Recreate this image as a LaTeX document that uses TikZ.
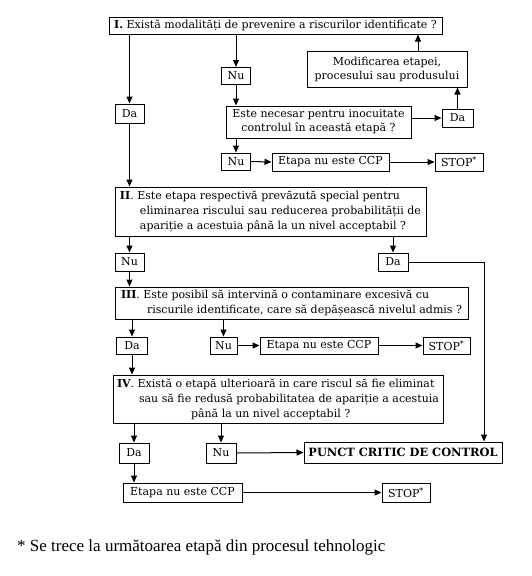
\documentclass[tikz,border=0pt]{standalone}
\usepackage{fontspec}
\setmainfont{Liberation Serif}
\newfontfamily\boxfont{DejaVu Serif}
\usetikzlibrary{positioning, arrows.meta}

\tikzset{
	box/.style={draw, line width=1pt, inner xsep=2pt, inner ysep=1pt, align=left,
		font=\boxfont\fontsize{11}{15}\selectfont},
	wh/.style 2 args={minimum width=#1pt, minimum height=#2pt},
	arr/.style={line width=1pt, -{Triangle[length=7pt,width=6pt]}}
}

\begin{document}
\begin{tikzpicture}[x=1pt, y=-1pt]
			\useasboundingbox (0,0) rectangle (531,576);
			% questions
			\node[box, wh={333}{17}] (q1) at (275.5,25.5) {\textbf{I.} Există modalități de prevenire a riscurilor identificate ?};
			\node[box, wh={185}{32}, align=center, font=\boxfont\fontsize{11}{14}\selectfont] (q1b) at (318.5,122) {Este necesar pentru inocuitate\\controlul în această etapă ?};
			\node[box, wh={160}{36}, align=center, font=\boxfont\fontsize{11}{14}\selectfont] (modif) at (387,69) {Modificarea etapei,\\procesului sau produsului};
			\node[box, wh={311}{49}] (q2) at (270.5,211.5) {\textbf{II}. Este etapa respectivă prevăzută special pentru\\
				\hspace*{20pt}eliminarea riscului sau reducerea probabilității de\\
				\hspace*{20pt}apariție a acestuia până la un nivel acceptabil ?};
			\node[box, wh={353}{32}] (q3) at (291.5,303) {\textbf{III}. Este posibil să intervină o contaminare excesivă cu\\
				\hspace*{26pt}riscurile identificate, care să depășească nivelul admis ?};
			\node[box, wh={330}{48}] (q4) at (278,399) {\textbf{IV}. Există o etapă ulterioară in care riscul să fie eliminat\\
				\hspace*{22pt}sau să fie redusă probabilitatea de apariție a acestuia\\
				\hspace*{74pt}până la un nivel acceptabil ?};
			% answers
			\node[box, wh={29}{19}] (da1) at (129.5,113.5) {Da};
			\node[box, wh={29}{17}] (nu1) at (236,76) {Nu};
			\node[box, wh={31}{18}] (da2) at (457.5,118) {Da};
			\node[box, wh={29}{17}] (nu2) at (236,161.5) {Nu};
			\node[box, wh={29}{18}] (nu3) at (129.5,262) {Nu};
			\node[box, wh={30}{18}] (da3) at (393,262) {Da};
			\node[box, wh={31}{17}] (da4) at (132,345.5) {Da};
			\node[box, wh={27}{17}] (nu4) at (223.5,345.5) {Nu};
			\node[box, wh={30}{20}] (da5) at (134,453) {Da};
			\node[box, wh={30}{20}] (nu5) at (221,453) {Nu};
			% results
			\node[box, wh={117}{18}] (ccpA) at (330.5,162) {Etapa nu este CCP};
			\node[box, wh={48}{18}] (stopA) at (459,162) {STOP\textsuperscript{*}};
			\node[box, wh={118}{17}] (ccpB) at (319,345.5) {Etapa nu este CCP};
			\node[box, wh={47}{17}] (stopB) at (446.5,345.5) {STOP\textsuperscript{*}};
			\node[box, wh={119}{19}] (ccpC) at (182.5,492.5) {Etapa nu este CCP};
			\node[box, wh={48}{19}] (stopC) at (406,492.5) {STOP\textsuperscript{*}};
			\node[box, wh={198}{21}, font=\boxfont\fontsize{11.4}{13}\selectfont\bfseries] (pcc) at (403,452.5) {PUNCT CRITIC DE CONTROL};
			\node[anchor=west, inner sep=0pt, font=\fontsize{17}{20}\selectfont] (foot) at (17,547) {* Se trece la următoarea etapă din procesul tehnologic};
			
			\coordinate (cm) at (418,0);
			\coordinate (cr) at (484,0);
			
			\draw[arr] (da1.north |- q1.south) -- (da1.north);
			\draw[arr] (da1.south) -- (da1.south |- q2.north);
			\draw[arr] (nu1.north |- q1.south) -- (nu1.north);
			\draw[arr] (nu1.south) -- (nu1.south |- q1b.north);
			\draw[arr] (q1b.east |- da2.west) -- (da2.west);
			\draw[arr] (da2.north) -- (da2.north |- modif.south);
			\draw[arr] (cm |- modif.north) -- (cm |- q1.south);
			\draw[arr] (nu2.north |- q1b.south) -- (nu2.north);
			\draw[arr] (nu2.east) -- (ccpA.west);
			\draw[arr] (ccpA.east) -- (stopA.west);
			
			\draw[arr] (nu3.north |- q2.south) -- (nu3.north);
			\draw[arr] (da3.north |- q2.south) -- (da3.north);
			\draw[arr] (nu3.south) -- (nu3.south |- q3.north);
			\draw[arr] (da3.east) -- (cr |- da3.east) -- (cr |- pcc.north);
			
			\draw[arr] (da4.north |- q3.south) -- (da4.north);
			\draw[arr] (nu4.north |- q3.south) -- (nu4.north);
			\draw[arr] (nu4.east) -- (ccpB.west);
			\draw[arr] (ccpB.east) -- (stopB.west);
			\draw[arr] (da4.south) -- (da4.south |- q4.north);
			
			\draw[arr] (da5.north |- q4.south) -- (da5.north);
			\draw[arr] (nu5.north |- q4.south) -- (nu5.north);
			\draw[arr] (nu5.east) -- (pcc.west);
			\draw[arr] (da5.south) -- (da5.south |- ccpC.north);
			\draw[arr] (ccpC.east) -- (stopC.west);
		\end{tikzpicture}
\end{document}
